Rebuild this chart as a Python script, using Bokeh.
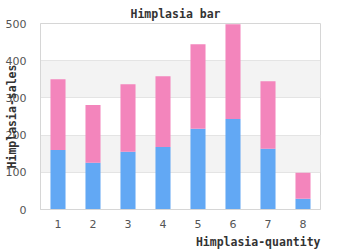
from bokeh.plotting import figure
from bokeh.models import ColumnDataSource, FixedTicker, Title
from bokeh.embed import file_html
from bokeh.resources import INLINE

categories = [1, 2, 3, 4, 5, 6, 7, 8]
blue_vals = [160, 126, 155, 168, 217, 243, 163, 29]
pink_vals = [190, 155, 182, 190, 227, 255, 182, 70]
y_ticks = [0, 100, 200, 300, 400, 500]

src = ColumnDataSource(dict(x=categories, blue=blue_vals, pink=pink_vals))

mono = "DejaVu Sans Mono"

p = figure(width=350, height=250, output_backend="svg", toolbar_location=None,
           x_range=(0.5, 8.5), y_range=(0, 500),
           min_border_left=40, min_border_right=30, min_border_top=23, min_border_bottom=40)

p.title.text = "Himplasia bar"
p.title.align = "left"
p.title.offset = 90
p.title.standoff = 5
p.title.text_font = mono
p.title.text_font_style = "bold"
p.title.text_font_size = "11.5px"
p.title.text_color = "#333333"

p.vbar_stack(["blue", "pink"], x="x", width=0.43, source=src,
             color=["#62a8f4", "#f385bc"], line_width=0)

for ax in (p.xaxis[0], p.yaxis[0]):
    ax.axis_line_color = "#d6d6d6"
    ax.major_tick_line_color = None
    ax.minor_tick_line_color = None
    ax.major_label_text_font = "DejaVu Sans"
    ax.major_label_text_font_size = "11px"
    ax.major_label_text_color = "#555555"
p.yaxis.major_label_standoff = 8
p.xaxis.major_label_standoff = 4

p.xaxis.ticker = FixedTicker(ticks=categories)
p.yaxis.ticker = FixedTicker(ticks=y_ticks)

p.yaxis.axis_label = "Himplasia-sales"
p.yaxis.axis_label_standoff = -16
p.yaxis.axis_label_text_font = mono
p.yaxis.axis_label_text_font_style = "bold"
p.yaxis.axis_label_text_font_size = "11.5px"
p.yaxis.axis_label_text_color = "#333333"

p.add_layout(Title(text="Himplasia-quantity", align="right", standoff=4,
                   text_font=mono, text_font_style="bold", text_font_size="11.5px",
                   text_color="#333333"), "below")

p.xgrid.grid_line_color = None
p.ygrid.grid_line_color = "#e4e4e4"
p.ygrid.band_fill_color = "#f3f3f3"
p.ygrid.band_fill_alpha = 1
p.outline_line_color = "#d6d6d6"

open("out.html", "w").write(file_html(p, INLINE))
